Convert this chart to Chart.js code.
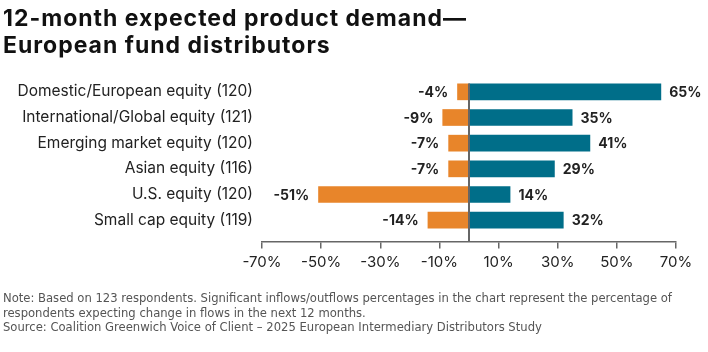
<!DOCTYPE html>
<html>
<head>
<meta charset="utf-8">
<script src="https://cdn.jsdelivr.net/npm/chart.js@4"></script>
<style>
  html, body { margin: 0; padding: 0; background: #fff; }
  #wrap { position: relative; width: 708px; height: 352px; overflow: hidden; }
  #title {
    position: absolute; left: 3px; top: 5px;
    font-family: Inter, sans-serif; font-weight: 700; font-size: 23px;
    letter-spacing: 1px; line-height: 27px; color: #111;
  }
  #note {
    position: absolute; left: 3px; top: 291px; width: 705px;
    font-family: "Liberation Sans Narrow", "DejaVu Sans Condensed", sans-serif;
    font-size: 12.9px; line-height: 14.5px; color: #555;
  }
  #chartBox { position: absolute; left: 0; top: 0; width: 708px; height: 352px; }
</style>
</head>
<body>
<div id="wrap">
  <div id="chartBox"><canvas id="myChart" width="708" height="352"></canvas></div>
  <div id="title">12-month expected product demand—<br>European fund distributors</div>
  <div id="note">Note: Based on 123 respondents. Significant inflows/outflows percentages in the chart represent the percentage of<br>respondents expecting change in flows in the next 12 months.<br>Source: Coalition Greenwich Voice of Client – 2025 European Intermediary Distributors Study</div>
</div>
<script>
// categories and values
const categories = [
  'Domestic/European equity (120)',
  'International/Global equity (121)',
  'Emerging market equity (120)',
  'Asian equity (116)',
  'U.S. equity (120)',
  'Small cap equity (119)'
];
const outflows = [-4, -9, -7, -7, -51, -14];
const inflows = [65, 35, 41, 29, 14, 32];
const tickValues = [-70, -50, -30, -10, 10, 30, 50, 70];

const axisSpot = 5.83; // where the x axis sits on the category scale

// value labels next to each bar
const valueLabels = {
  id: 'valueLabels',
  afterDatasetsDraw(chart) {
    const ctx = chart.ctx;
    ctx.save();
    ctx.font = '700 14px Inter, sans-serif';
    ctx.fillStyle = '#222';
    ctx.textBaseline = 'middle';
    chart.data.datasets.forEach((ds, di) => {
      chart.getDatasetMeta(di).data.forEach((el, i) => {
        const v = ds.data[i];
        if (v < 0) {
          ctx.textAlign = 'right';
          ctx.fillText(v + '%', el.x - 9, el.y + 1);
        } else {
          ctx.textAlign = 'left';
          ctx.fillText(v + '%', el.x + 8, el.y + 1);
        }
      });
    });
    ctx.restore();
  }
};

// vertical line at zero, from first bar down to the axis
const zeroLine = {
  id: 'zeroLine',
  afterDatasetsDraw(chart) {
    const x = chart.scales.x.getPixelForValue(0);
    const first = chart.getDatasetMeta(1).data[0];
    const top = first.y - first.height / 2;
    const bottom = chart.scales.y.getPixelForValue(axisSpot);
    const ctx = chart.ctx;
    ctx.save();
    ctx.strokeStyle = '#666';
    ctx.lineWidth = 2;
    ctx.beginPath();
    ctx.moveTo(x, top);
    ctx.lineTo(x, bottom);
    ctx.stroke();
    ctx.restore();
  }
};

var ctx = document.getElementById('myChart').getContext('2d');
var myChart = new Chart(ctx, {
  type: 'bar',
  data: {
    labels: categories,
    datasets: [{
      label: 'Outflows',
      data: outflows,
      backgroundColor: '#E8852A'
    }, {
      label: 'Inflows',
      data: inflows,
      backgroundColor: '#006E89'
    }]
  },
  options: {
    indexAxis: 'y',
    responsive: false,
    animation: false,
    layout: { padding: { left: 0, right: 32, top: 79, bottom: 119 } },
    datasets: { bar: { barPercentage: 1, categoryPercentage: 0.65 } },
    plugins: { legend: { display: false }, tooltip: { enabled: false } },
    scales: {
      x: {
        stacked: true,
        min: -70,
        max: 70,
        position: { y: axisSpot },
        afterBuildTicks: (scale) => { scale.ticks = tickValues.map(v => ({ value: v })); },
        border: { display: true, color: '#666', width: 1.5 },
        grid: { drawOnChartArea: false, drawTicks: true, tickLength: 6, color: '#666', lineWidth: 1.5 },
        ticks: {
          padding: 6,
          color: '#222',
          font: { family: 'Inter, sans-serif', size: 15 },
          callback: (v) => v + '%'
        }
      },
      y: {
        stacked: true,
        afterFit: (scale) => { scale.width = 262; },
        border: { display: false },
        grid: { display: false },
        ticks: {
          padding: 1,
          color: '#222',
          font: { family: 'Inter, sans-serif', size: 15.5 }
        }
      }
    }
  },
  plugins: [valueLabels, zeroLine]
});
</script>
</body>
</html>
